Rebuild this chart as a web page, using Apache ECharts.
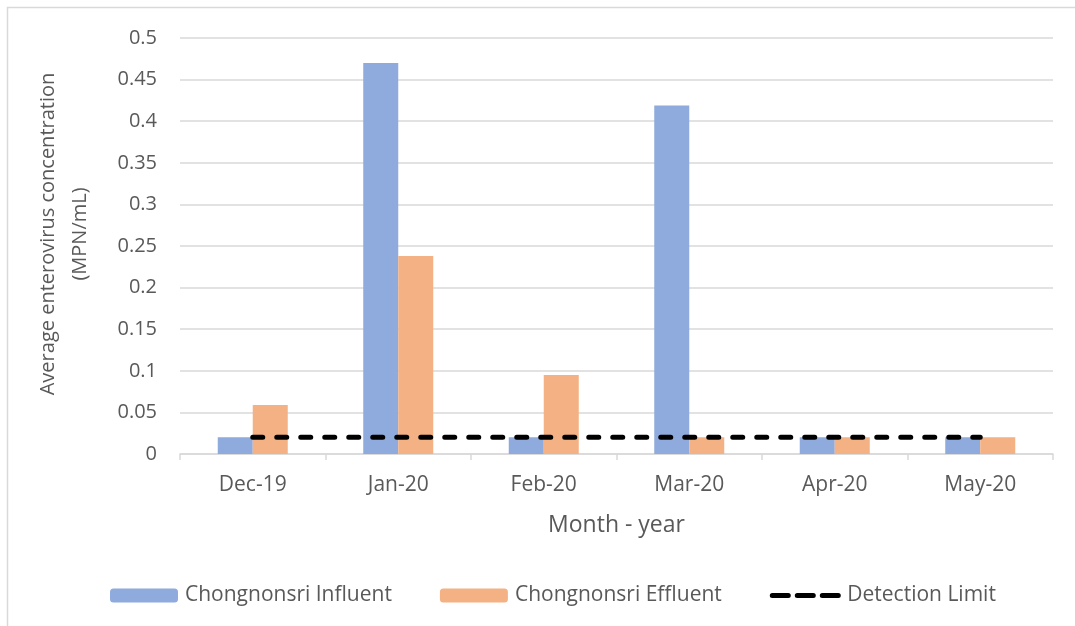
<!DOCTYPE html>
<html>
<head>
<meta charset="utf-8">
<script src="https://cdn.jsdelivr.net/npm/echarts@6/dist/echarts.min.js"></script>
<style>
  html, body { margin: 0; padding: 0; background: #fff; }
  #chart { width: 1075px; height: 626px; }
</style>
</head>
<body>
<div id="chart"></div>
<script>
// Monthly average enterovirus concentration (MPN/mL)
const months = ['Dec-19', 'Jan-20', 'Feb-20', 'Mar-20', 'Apr-20', 'May-20'];
const influent = [0.02, 0.47, 0.02, 0.419, 0.02, 0.02];
const effluent = [0.059, 0.238, 0.095, 0.02, 0.02, 0.02];
const detectionLimit = [0.02, 0.02, 0.02, 0.02, 0.02, 0.02];
const yTicks = { min: 0, max: 0.5, interval: 0.05 };
const yTitle = 'Average enterovirus concentration\n(MPN/mL)';

const FONT = '"Open Sans", sans-serif';
const TEXT = '#595959';
const GRID = '#d9d9d9';

const chart = echarts.init(document.getElementById('chart'), null, { renderer: 'canvas' });
chart.setOption({
  backgroundColor: '#ffffff',
  animation: false,
  textStyle: { fontFamily: FONT, color: TEXT },
  graphic: [
    {
      type: 'rect',
      shape: { x: 7.5, y: 7.5, width: 1100, height: 700 },
      style: { fill: 'none', stroke: GRID, lineWidth: 1.5 },
      silent: true
    },
    {
      // two-line value-axis title, rotated to read bottom-to-top
      type: 'text',
      x: 64,
      y: 234,
      rotation: Math.PI / 2,
      silent: true,
      style: {
        text: yTitle,
        fontFamily: FONT,
        fontSize: 20,
        lineHeight: 32,
        fill: TEXT,
        align: 'center',
        verticalAlign: 'middle'
      }
    }
  ],
  grid: { left: 180, right: 22, top: 38, bottom: 172 },
  legend: {
    bottom: 20,
    left: 110,
    padding: 0,
    itemWidth: 68,
    itemHeight: 14,
    itemGap: 48,
    textStyle: { fontFamily: FONT, fontSize: 21, color: TEXT, padding: [0, 0, 0, 2] },
    data: [
      'Chongnonsri Influent',
      'Chongnonsri Effluent',
      {
        name: 'Detection Limit',
        itemStyle: { opacity: 0 },
        lineStyle: { color: '#000000', width: 5, type: [16, 9], cap: 'round' }
      }
    ]
  },
  xAxis: {
    type: 'category',
    data: months,
    name: 'Month - year',
    nameLocation: 'middle',
    nameGap: 60,
    nameTextStyle: { fontFamily: FONT, fontSize: 23, color: TEXT },
    axisLine: { lineStyle: { color: GRID, width: 1.5 } },
    axisTick: { show: true, length: 6, lineStyle: { color: GRID, width: 1.5 } },
    axisLabel: { fontFamily: FONT, fontSize: 21, color: TEXT, margin: 21 }
  },
  yAxis: {
    type: 'value',
    min: yTicks.min,
    max: yTicks.max,
    interval: yTicks.interval,
    axisLine: { show: false },
    axisTick: { show: false },
    axisLabel: {
      fontFamily: FONT, fontSize: 20, color: TEXT, margin: 23,
      formatter: v => String(Math.round(v * 100) / 100)
    },
    splitLine: { lineStyle: { color: GRID, width: 1.5 } }
  },
  series: [
    {
      name: 'Chongnonsri Influent',
      type: 'bar',
      data: influent,
      barWidth: 35,
      barGap: '0%',
      itemStyle: { color: '#8faadc' }
    },
    {
      name: 'Chongnonsri Effluent',
      type: 'bar',
      data: effluent,
      barWidth: 35,
      itemStyle: { color: '#f4b183' }
    },
    {
      name: 'Detection Limit',
      type: 'line',
      data: detectionLimit,
      symbol: 'none',
      z: 5,
      itemStyle: { color: '#000000' },
      lineStyle: { color: '#000000', width: 5, type: [10, 14], cap: 'round' }
    }
  ]
});
</script>
</body>
</html>
